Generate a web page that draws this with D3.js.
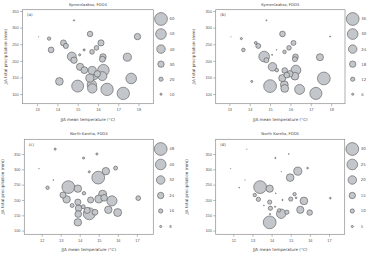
<!DOCTYPE html>
<html>
<head>
<meta charset="utf-8">
<script src="https://cdn.jsdelivr.net/npm/d3@7"></script>
<style>
	body { margin: 0; background: #fff; }
	svg { display: block; font-family: "DejaVu Sans", Verdana, sans-serif; }
</style>
</head>
<body>
<svg id="chart" width="368" height="255"></svg>
<script>

// Kymenlaakso: JJA mean temperature, JJA precipitation, FDD4 and FDD5
var kymTemp = [14.82, 13.08, 13.59, 15.61, 17.95, 14.30, 14.42, 13.69, 16.15, 15.93, 15.71, 15.32, 15.10, 14.71, 14.82, 16.25, 16.22,
	17.45, 15.12, 15.33, 15.72, 16.27, 15.60, 15.82, 15.97, 16.22, 14.10, 17.64, 15.00, 15.70, 15.72, 16.45, 17.25];
var kymPrec = [322, 272, 267, 281, 273, 254, 245, 233, 254, 239, 227, 233, 218, 213, 202, 212, 205,
	211, 182, 172, 171, 172, 148, 157, 161, 154, 138, 147, 124, 128, 117, 114, 102];
var kymFDD4 = [6, 2, 16, 26, 30, 28, 24, 27, 29, 22, 22, 10, 10, 42, 30, 30, 28,
	38, 34, 32, 38, 54, 38, 42, 30, 42, 36, 50, 56, 44, 44, 58, 58];
var kymFDD5 = [3, 1, 6, 16, 3, 8, 14, 10, 14, 13, 10, 2, 3, 30, 14, 16, 14,
	20, 24, 10, 16, 28, 20, 16, 18, 22, 6, 36, 36, 22, 22, 28, 34];

// North Karelia
var nkTemp = [12.71, 11.86, 12.61, 12.31, 13.40, 13.90, 14.20, 14.50, 13.12, 13.31, 14.22, 13.60, 13.90, 13.94, 13.92, 13.90,
	14.18, 14.39, 14.50, 14.57, 14.97, 14.90, 15.37, 15.88, 15.20, 15.00, 15.28, 15.69, 17.07, 15.50, 15.99, 14.80];
var nkPrec = [366, 302, 265, 240, 242, 237, 337, 292, 216, 202, 222, 182, 193, 173, 154, 127,
	178, 166, 155, 200, 273, 350, 294, 304, 219, 203, 207, 197, 206, 168, 159, 160];
var nkFDD4 = [8, 2, 3, 13, 48, 28, 8, 8, 23, 28, 13, 15, 23, 25, 25, 28,
	15, 23, 45, 23, 48, 8, 28, 15, 30, 30, 25, 38, 18, 28, 30, 22];
var nkFDD5 = [1, 1, 1, 2, 30, 17, 3, 1, 8, 10, 2, 2, 10, 10, 3, 30,
	3, 8, 22, 3, 18, 2, 19, 4, 8, 10, 4, 18, 4, 17, 13, 10];

// legend values and ticks
var legendA = [60, 50, 40, 30, 20, 10];
var legendB = [36, 30, 24, 18, 12, 6];
var legendC = [48, 40, 32, 24, 16, 8];
var legendD = [30, 25, 20, 15, 10, 5];
var xTicksKym = [13, 14, 15, 16, 17, 18];
var xTicksNk = [12, 13, 14, 15, 16, 17];
var yTicksKym = [100, 150, 200, 250, 300, 350];
var yTicksNk = [100, 150, 200, 250, 300, 350];

var titles = ["Kymenlaakso, FDD4", "Kymenlaakso, FDD5", "North Karelia, FDD4", "North Karelia, FDD5"];
var panelLabels = ["(a)", "(b)", "(c)", "(d)"];

var svg = d3.select("#chart");
svg.append("rect").attr("width", 368).attr("height", 255).attr("fill", "#fff");

var panels = [
	{temp: kymTemp, prec: kymPrec, size: kymFDD4, legend: legendA, xTicks: xTicksKym, yTicks: yTicksKym,
	 xDomain: [12.28, 18.73], yDomain: [71, 354], left: 22.5, right: 153.3, top: 9.7, bottom: 103.7,
	 legendX: 161, legendTop: 19, legendStep: 15.05, ylabX: 7},
	{temp: kymTemp, prec: kymPrec, size: kymFDD5, legend: legendB, xTicks: xTicksKym, yTicks: yTicksKym,
	 xDomain: [12.33, 18.68], yDomain: [71, 354], left: 215.7, right: 345, top: 9.7, bottom: 103.7,
	 legendX: 352.7, legendTop: 19, legendStep: 15.05, ylabX: 195},
	{temp: nkTemp, prec: nkPrec, size: nkFDD4, legend: legendC, xTicks: xTicksNk, yTicks: yTicksNk,
	 xDomain: [11.09, 17.86], yDomain: [88, 398], left: 24.3, right: 153.3, top: 139.3, bottom: 234.3,
	 legendX: 160.7, legendTop: 149, legendStep: 15.5, ylabX: 4},
	{temp: nkTemp, prec: nkPrec, size: nkFDD5, legend: legendD, xTicks: xTicksNk, yTicks: yTicksNk,
	 xDomain: [11.08, 17.82], yDomain: [88, 398], left: 215.7, right: 344.7, top: 139.3, bottom: 234.3,
	 legendX: 352.3, legendTop: 149, legendStep: 15.5, ylabX: 188}
];

panels.forEach(function(p, k) {
	var g = svg.append("g");

	var x = d3.scaleLinear().domain(p.xDomain).range([p.left, p.right]);
	var y = d3.scaleLinear().domain(p.yDomain).range([p.bottom, p.top]);
	var r = d3.scaleLinear().domain([0, d3.max(p.legend)]).range([0, 6.4]);

	// frame
	g.append("rect")
		.attr("x", p.left).attr("y", p.top)
		.attr("width", p.right - p.left).attr("height", p.bottom - p.top)
		.attr("fill", "none").attr("stroke", "#8c8c8c").attr("stroke-width", 0.7);

	// axes
	var yAxis = g.append("g")
		.attr("transform", "translate(" + p.left + ",0)")
		.call(d3.axisLeft(y).tickValues(p.yTicks).tickFormat(d3.format("d")).tickSize(2.5).tickPadding(1.3));
	var xAxis = g.append("g")
		.attr("transform", "translate(0," + p.bottom + ")")
		.call(d3.axisBottom(x).tickValues(p.xTicks).tickFormat(d3.format("d")).tickSize(2.5).tickPadding(2.5));
	[yAxis, xAxis].forEach(function(a) {
		a.select(".domain").remove();
		a.selectAll(".tick line").attr("stroke", "#8c8c8c").attr("stroke-width", 0.6);
		a.selectAll(".tick text").attr("fill", "#555").style("font-size", "3.9px");
	});

	// bubbles, big ones first so small stay visible
	var pts = p.temp.map(function(t, i) { return {t: t, p: p.prec[i], v: p.size[i]}; });
	pts.sort(function(a, b) { return b.v - a.v; });
	g.selectAll("circle.pt")
		.data(pts)
		.enter()
		.append("circle")
		.attr("class", "pt")
		.attr("cx", function(d) { return x(d.t); })
		.attr("cy", function(d) { return y(d.p); })
		.attr("r", function(d) { return r(d.v); })
		.attr("fill", "#c3c6ca")
		.attr("stroke", "#4a4a4a")
		.attr("stroke-width", 0.55);

	// size legend
	p.legend.forEach(function(v, i) {
		var ly = p.legendTop + i * p.legendStep;
		g.append("circle")
			.attr("cx", p.legendX).attr("cy", ly).attr("r", r(v))
			.attr("fill", "#c3c6ca").attr("stroke", "#4a4a4a").attr("stroke-width", 0.55);
		g.append("text")
			.attr("x", p.legendX + 8.5).attr("y", ly + 1.4)
			.attr("fill", "#555").style("font-size", "3.9px")
			.text(v);
	});

	// texts
	g.append("text")
		.attr("x", (p.left + p.right) / 2).attr("y", p.top - 4)
		.attr("text-anchor", "middle").attr("fill", "#444").style("font-size", "3.8px")
		.text(titles[k]);
	g.append("text")
		.attr("x", p.left + 4.5).attr("y", p.top + 6.5)
		.attr("fill", "#444").style("font-size", "4px")
		.text(panelLabels[k]);
	g.append("text")
		.attr("x", (p.left + p.right) / 2).attr("y", p.bottom + 17)
		.attr("text-anchor", "middle").attr("fill", "#444").style("font-size", "4.1px")
		.text("JJA mean temperature (\u00B0C)");
	g.append("text")
		.attr("transform", "translate(" + p.ylabX + "," + (p.top + p.bottom) / 2 + ") rotate(-90)")
		.attr("text-anchor", "middle").attr("fill", "#444").style("font-size", "4.1px")
		.text("JJA total precipitation (mm)");
});

</script>
</body>
</html>
